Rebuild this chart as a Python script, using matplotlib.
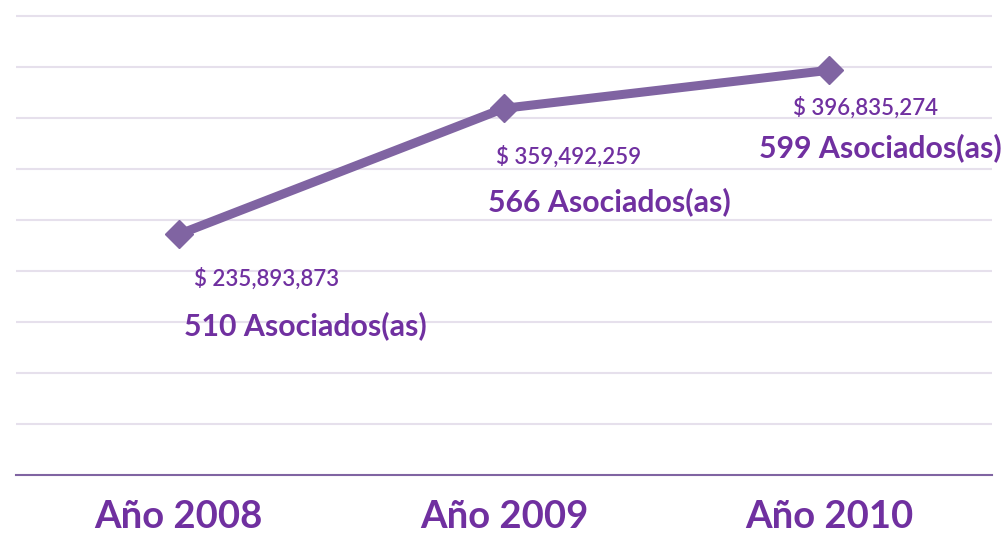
import matplotlib.pyplot as plt

# datos
anios = ['Año 2008', 'Año 2009', 'Año 2010']
montos = [235893873, 359492259, 396835274]
asociados = [510, 566, 599]

# desplazamientos de las etiquetas (pixeles)
off_monto = [(15, -44), (-8, -48), (-36, -37)]
off_asoc = [(5, -91), (-16, -93), (-70, -77)]

linea = '#8064A2'
texto = '#7030A0'

fig = plt.figure(figsize=(10.06, 5.37), dpi=100)
ax = fig.add_axes([16 / 1006, 62 / 537, 976 / 1006, 475 / 537])

x = range(len(anios))
y = [m / 1e6 for m in montos]
ax.plot(x, y, color=linea, lw=6.5, marker='D', markersize=14,
        solid_capstyle='butt', zorder=3)

for i in x:
    ax.annotate('$ {:,}'.format(montos[i]), (i, y[i]), xytext=off_monto[i],
                textcoords='offset pixels', ha='left', va='center',
                fontsize=16, fontweight='semibold', color=texto,
                family='Lato')
    ax.annotate('{} Asociados(as)'.format(asociados[i]), (i, y[i]),
                xytext=off_asoc[i], textcoords='offset pixels', ha='left',
                va='center', fontsize=21.8, fontweight='bold', color=texto,
                family='Lato', annotation_clip=False)

ax.set_xlim(-0.5, 2.5)
ax.set_ylim(0, 465.7)
ax.set_yticks(range(50, 451, 50))
ax.grid(axis='y', color='#E6E0EC', lw=1.5)
ax.set_axisbelow(True)
ax.set_xticks(list(x))
ax.set_xticklabels(anios, fontsize=27.5, fontweight='bold', color=texto,
                   family='Lato')
ax.tick_params(axis='x', length=0, pad=18)
ax.tick_params(axis='y', length=0, labelleft=False)
for s in ['top', 'right', 'left']:
    ax.spines[s].set_visible(False)
ax.spines['bottom'].set_color(linea)
ax.spines['bottom'].set_linewidth(1.5)

plt.savefig('out.png', dpi=100)
